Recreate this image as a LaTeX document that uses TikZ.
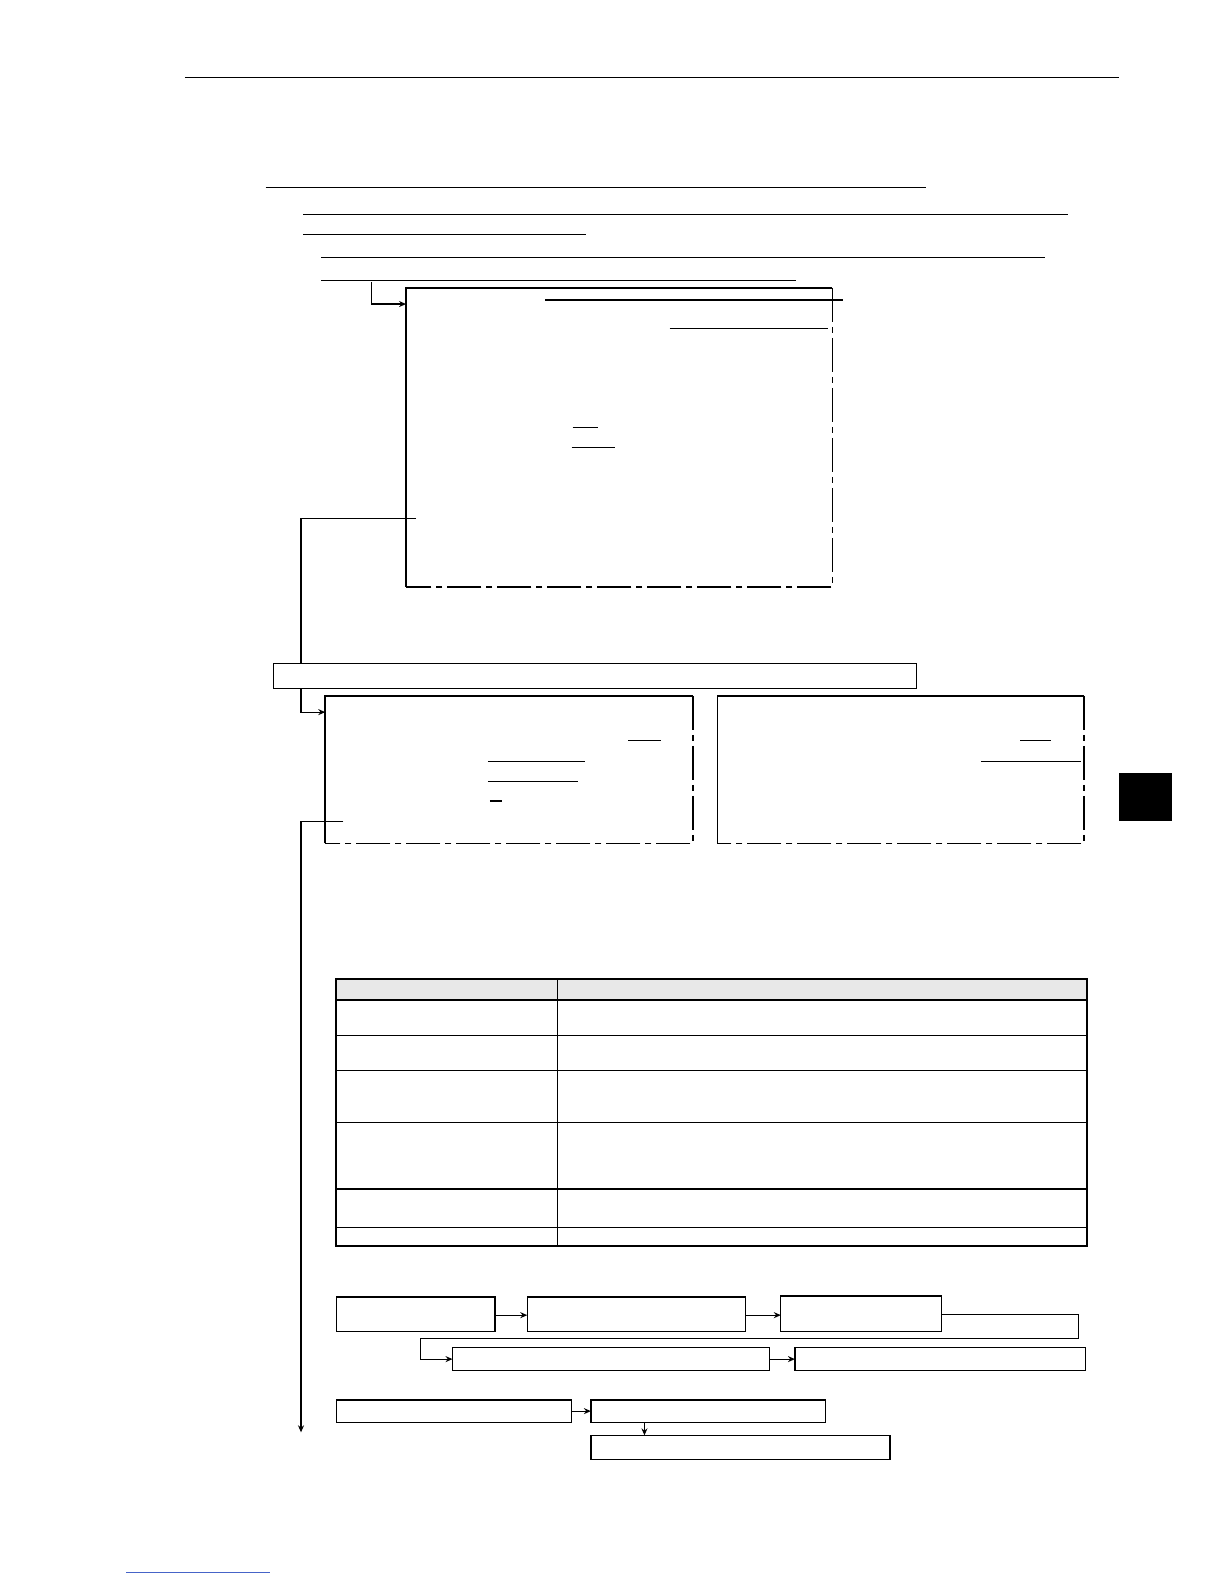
\documentclass[tikz,border=0pt]{standalone}
\usetikzlibrary{arrows.meta}
\newcommand\mkbox[6][]{\node[#1, minimum width={(#5-#3)*0.50505pt}, minimum height={(#6-#4)*0.50505pt}] (#2) at ({(#3+#5)/2},{(#4+#6)/2}) {};}
\definecolor{linkblue}{RGB}{70,100,200}
\begin{document}
\begin{tikzpicture}[x=0.50505pt,y=-0.50505pt,
  rule/.style={line width=0.6pt},
  box/.style={draw, line width=0.6pt, inner sep=0pt, outer sep=0pt, fill=white},
  panel/.style={inner sep=0pt, outer sep=0pt},
  panelsolid/.style={line width=1pt},
  paneldash/.style={line width=0.7pt, dash pattern=on 17pt off 2.5pt on 3pt off 2.5pt},
  conn/.style={line width=0.6pt},
  arr/.style={conn, -{Stealth[length=3.5pt,width=3pt]}}]
\useasboundingbox (0pt,0pt) rectangle (612pt,-792pt);
% header rule
\draw[rule] (183,77) -- (1108,77);
% text underlines
\draw[rule] (263,186) -- (917,186);
\draw[rule] (300,212) -- (1057,212);
\draw[rule] (300,232) -- (580,232);
\draw[rule] (318,255) -- (1035,255);
\draw[rule] (318,278) -- (788,278);
% panel 1
\mkbox[panel]{p1}{402}{285}{824}{581}
\draw[panelsolid] (p1.south west) -- (p1.north west) -- (p1.north east);
\draw[paneldash] (p1.north east) -- (p1.south east) -- (p1.south west);
\draw[rule] (540,297) -- (835,297);
\draw[rule] (663,325) -- (820,325);
\draw[rule] (567,423) -- (592,423);
\draw[rule] (566,443) -- (609,443);
\coordinate (s0) at (368,279);
\draw[arr] (s0) |- (p1.north west |- 0,301);
\coordinate (p1out) at (412,513);
% panels 2 and 3
\mkbox[panel]{p2}{322}{689}{686}{835}
\mkbox[panel]{p3}{710}{689}{1073}{835}
\draw[arr] (p1out) -| (298,600) -- (298,705) -- (p2.west |- 0,705);
% wide box
\mkbox[box]{wide}{271}{657}{907}{682}
\draw[panelsolid] (p2.south west) -- (p2.north west) -- (p2.north east);
\draw[paneldash] (p2.north east) -- (p2.south east) -- (p2.south west);
\draw[rule] (p3.south west) -- (p3.north west);
\draw[panelsolid] (p3.north west) -- (p3.north east);
\draw[paneldash] (p3.north east) -- (p3.south east) -- (p3.south west);
\draw[rule] (622,733) -- (654,733);
\draw[rule] (483,754) -- (579,754);
\draw[rule] (483,774) -- (572,774);
\draw[rule] (485,793) -- (497,793);
\draw[rule] (1010,733) -- (1040,733);
\draw[rule] (971,754) -- (1070,754);
% long down connector
\coordinate (p2out) at (340,813);
\coordinate (downend) at (298,1418);
\draw[arr] (p2out) -| (downend);
% side tab
\fill (1108,765) rectangle (1160,813);
% table
\fill[gray!18] (333,969) rectangle (1076,990);
\draw[line width=0.6pt] (552,969) -- (552,1234);
\foreach \yy in {1025,1060,1111,1177,1215} \draw[line width=0.6pt] (333,\yy) -- (1076,\yy);
\draw[line width=1pt] (333,990) -- (1076,990);
\draw[line width=1pt] (333,969) rectangle (1076,1234);
% flow boxes
\mkbox[box]{a}{333}{1284}{490}{1318}
\mkbox[box]{b}{522}{1284}{738}{1318}
\mkbox[box]{c}{773}{1283}{932}{1318}
\mkbox[box]{d}{448}{1334}{762}{1357}
\mkbox[box]{e}{787}{1334}{1075}{1357}
\mkbox[box]{f}{333}{1386}{566}{1408}
\mkbox[box]{g}{585}{1386}{817}{1408}
\mkbox[box]{h}{585}{1421}{881}{1445}
\draw[arr] (a.east |- 0,1302) -- (b.west |- 0,1302);
\draw[arr] (b.east |- 0,1302) -- (c.west |- 0,1302);
\draw[arr] (c.east |- 0,1301) -- (1068,1301) -- (1068,1325) -- (416,1325) |- (d.west);
\draw[arr] (d.east) -- (e.west);
\draw[arr] (f.east) -- (g.west);
\draw[arr] (g.south -| 638,0) -- (h.north -| 638,0);
% footer line
\draw[linkblue, line width=0.5pt] (125,1557) -- (267,1557);
\end{tikzpicture}
\end{document}
